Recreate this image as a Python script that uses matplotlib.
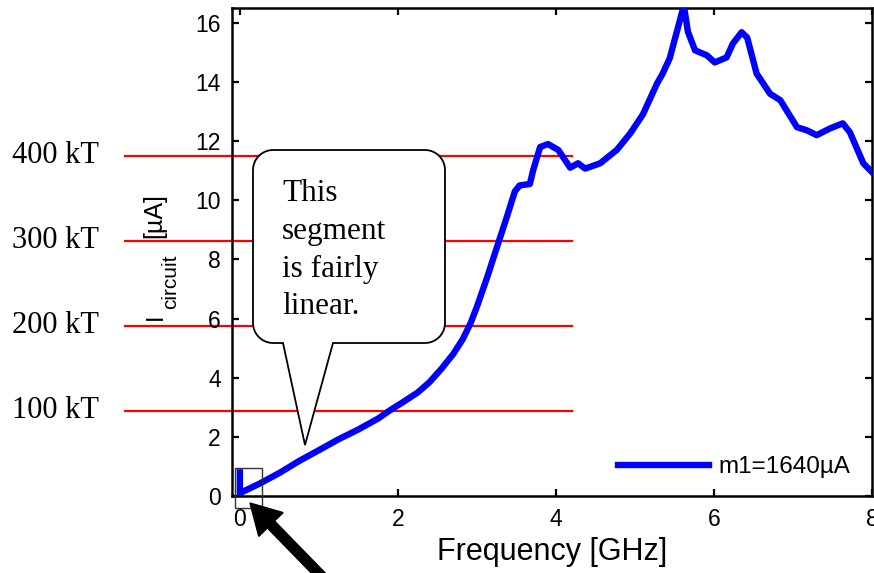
import numpy as np
import matplotlib
matplotlib.use("Agg")
import matplotlib.pyplot as plt
from matplotlib.patches import PathPatch, FancyArrow, Rectangle
from matplotlib.path import Path

# ---------------- data ----------------
freq_ghz = [0.0, 0.0, 0.04, 0.25, 0.5, 0.76, 1.0, 1.25, 1.5, 1.75, 1.9, 2.05, 2.25,
            2.4, 2.55, 2.7, 2.82, 2.92, 3.0, 3.13, 3.27, 3.38, 3.48, 3.54, 3.67, 3.71,
            3.8, 3.9, 4.03, 4.18, 4.28, 4.37, 4.56, 4.77, 4.94, 5.1, 5.28, 5.35,
            5.44, 5.53, 5.6, 5.63, 5.67, 5.76, 5.91, 6.01, 6.16, 6.24, 6.35, 6.42,
            6.54, 6.71, 6.84, 7.05, 7.18, 7.3, 7.47, 7.63, 7.72, 7.89, 8.0]
current_ua = [0.8, 0.05, 0.15, 0.42, 0.78, 1.2, 1.55, 1.92, 2.25, 2.62, 2.9, 3.15, 3.5,
              3.85, 4.3, 4.8, 5.3, 5.85, 6.4, 7.4, 8.55, 9.45, 10.3, 10.5, 10.55, 11.0,
              11.8, 11.9, 11.7, 11.1, 11.25, 11.07, 11.25, 11.7, 12.26, 12.9, 13.95, 14.28,
              14.8, 15.7, 16.4, 16.4, 15.7, 15.07, 14.9, 14.66, 14.83, 15.3, 15.68, 15.5,
              14.28, 13.6, 13.38, 12.47, 12.36, 12.2, 12.43, 12.6, 12.3, 11.25, 10.95]
series_label = "m1=1640\u00b5A"

kT_labels = ["100 kT", "200 kT", "300 kT", "400 kT"]
kT_current = [2.875, 5.75, 8.625, 11.5]
kT_line_freq = [-1.456, 4.2]

x_ticks = [0, 2, 4, 6, 8]
y_ticks = [0, 2, 4, 6, 8, 10, 12, 14, 16]

callout_text = "This\nsegment\nis fairly\nlinear."

# ---------------- figure ----------------
W, H = 874, 573
fig = plt.figure(figsize=(W / 100, H / 100), dpi=100)
ax = fig.add_axes([232 / W, 1 - 496 / H, (872 - 232) / W, (496 - 8) / H])

sans = "Liberation Sans"
serif = "Liberation Serif"

def px(x, y):
    """pixel (from top-left) -> inches for fig.dpi_scale_trans"""
    return x / 100.0, (H - y) / 100.0

# red kT lines
for v in kT_current:
    ax.plot(kT_line_freq, [v, v], color="red", lw=1.6, clip_on=False, zorder=1)

# main curve
ax.plot(freq_ghz, current_ua, color=(0, 0, 1), lw=4.6, label=series_label,
        solid_joinstyle="round", zorder=3)

ax.set_xlim(-0.1, 8)
ax.set_ylim(0, 16.5)
ax.set_xticks(x_ticks)
ax.set_yticks(y_ticks)
ax.set_xticklabels([str(t) for t in x_ticks], fontfamily=sans, fontsize=16.5)
ax.set_yticklabels([str(t) for t in y_ticks], fontfamily=sans, fontsize=16.5)
ax.tick_params(direction="in", length=5, width=1.6, top=True, right=True)
ax.tick_params(axis="x", pad=9)
ax.tick_params(axis="y", pad=8)
for s in ax.spines.values():
    s.set_linewidth(1.8)

ax.set_xlabel("Frequency [GHz]", fontfamily=sans, fontsize=22, labelpad=4)

# legend
leg = ax.legend(loc="lower right", frameon=False, prop={"family": sans, "size": 17.5},
                handlelength=3.75, handletextpad=0.37, borderpad=0, borderaxespad=0,
                bbox_to_anchor=(0.966, 0.036))

# small box near origin
ax.add_patch(Rectangle((-0.063, -0.4), 0.34, 1.35, fill=False, edgecolor="#333333",
                       lw=1.0, clip_on=False, zorder=4))

# y label (manual, with large subscript)
fig.text(*px(162, 320), "I", rotation=90, rotation_mode="anchor", ha="left",
         va="baseline", fontfamily=sans, fontsize=17, transform=fig.dpi_scale_trans)
fig.text(*px(176.5, 309), "circuit", rotation=90, rotation_mode="anchor", ha="left",
         va="baseline", fontfamily=sans, fontsize=15, transform=fig.dpi_scale_trans)
fig.text(*px(161, 238), "[\u00b5A]", rotation=90, rotation_mode="anchor", ha="left",
         va="baseline", fontfamily=sans, fontsize=18, transform=fig.dpi_scale_trans)

# kT labels
for lab, v in zip(kT_labels, kT_current):
    ax.annotate(lab, xy=(12 / W, v), xycoords=("figure fraction", "data"),
                xytext=(0, -5), textcoords="offset points", ha="left", va="baseline",
                fontfamily=serif, fontsize=22, annotation_clip=False)

# callout bubble
L, R, T, B, r = 253, 445, 150, 343, 20
p0, p1, tip = 283, 333, (305, 445)
verts = []
def arc(cx, cy, a0, a1, n=10):
    for a in np.linspace(np.radians(a0), np.radians(a1), n):
        verts.append(px(cx + r * np.cos(a), cy - r * np.sin(a)))
verts.append(px(p0, B))
verts.append(px(*tip))
verts.append(px(p1, B))
verts.append(px(R - r, B))
arc(R - r, B - r, -90, 0)
verts.append(px(R, T + r))
arc(R - r, T + r, 0, 90)
verts.append(px(L + r, T))
arc(L + r, T + r, 90, 180)
verts.append(px(L, B - r))
arc(L + r, B - r, 180, 270)
verts.append(px(p0, B))
codes = [Path.MOVETO] + [Path.LINETO] * (len(verts) - 2) + [Path.CLOSEPOLY]
bubble = PathPatch(Path(verts, codes), facecolor="white", edgecolor="black", lw=1.3,
                   transform=fig.dpi_scale_trans, zorder=5)
fig.add_artist(bubble)
fig.text(*px(282, 179), callout_text, ha="left", va="top", fontfamily=serif,
         fontsize=22.5, linespacing=1.4, transform=fig.dpi_scale_trans, zorder=6)

# black arrow
tx, ty = px(250, 503)
sx, sy = px(327, 582)
arrow = FancyArrow(sx, sy, tx - sx, ty - sy, width=0.10, head_width=0.34,
                   head_length=0.30, length_includes_head=True, color="black",
                   transform=fig.dpi_scale_trans, zorder=6)
fig.add_artist(arrow)

fig.savefig("out.png", dpi=100)
